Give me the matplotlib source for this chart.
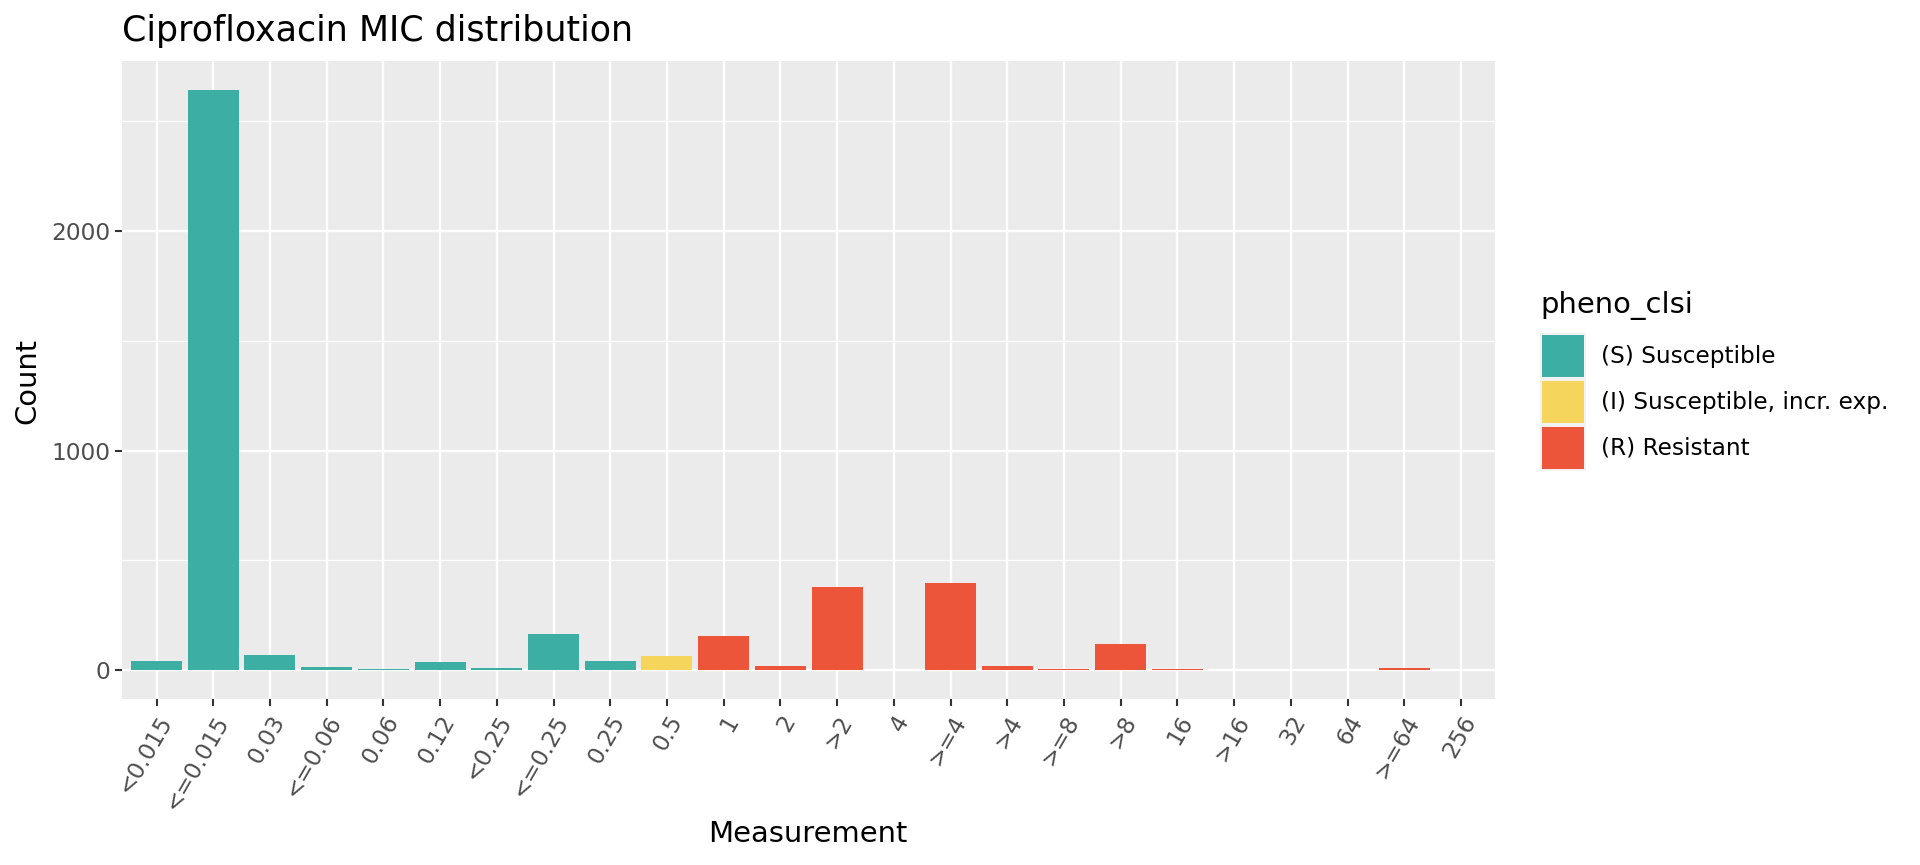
import numpy as np
import matplotlib.pyplot as plt
from matplotlib.patches import Rectangle

# MIC values (x categories, in plot order)
categories = ["<0.015", "<=0.015", "0.03", "<=0.06", "0.06", "0.12", "<0.25",
              "<=0.25", "0.25", "0.5", "1", "2", ">2", "4", ">=4", ">4", ">=8",
              ">8", "16", ">16", "32", "64", ">=64", "256"]
counts = [40, 2643, 67, 12, 4, 35, 8, 163, 40, 62, 153, 17, 377, 0, 395, 17, 4,
          117, 4, 0, 0, 0, 8, 0]
phenotype = ["S"] * 9 + ["I"] + ["R"] * 14

pheno_order = ["S", "I", "R"]
pheno_labels = ["(S) Susceptible", "(I) Susceptible, incr. exp.", "(R) Resistant"]
pheno_colors = {"S": "#3CAEA3", "I": "#F6D55C", "R": "#ED553B"}

W, H = 1920, 865
S = 1.9  # ggplot pt -> matplotlib pt at dpi 100


def fx(px):
    return px / W


def fy(py):
    return 1 - py / H


fig = plt.figure(figsize=(W / 100, H / 100), dpi=100)
ax = fig.add_axes([fx(122.5), fy(699), fx(1495 - 122.5), (699 - 61) / H])

x = np.arange(1, len(categories) + 1)
ax.bar(x, counts, width=0.9, color=[pheno_colors[p] for p in phenotype],
       linewidth=0, zorder=3)

ymax = max(counts)
ax.set_xlim(0.4, len(categories) + 0.6)
ax.set_ylim(-0.05 * ymax, 1.05 * ymax)

ax.set_facecolor("#EBEBEB")
for sp in ax.spines.values():
    sp.set_visible(False)

ax.set_yticks([0, 1000, 2000])
ax.set_yticks([500, 1500, 2500], minor=True)
ax.set_xticks(x)
ax.set_xticklabels(categories, rotation=60, ha="right", va="top",
                   rotation_mode="anchor")
ax.grid(which="major", color="white", linewidth=1.7, zorder=0)
ax.grid(which="minor", axis="y", color="white", linewidth=0.9, zorder=0)
ax.set_axisbelow(True)
ax.tick_params(axis="both", which="major", length=5, width=1.5,
               color="#333333", labelsize=8.8 * S, labelcolor="#4D4D4D", pad=4)
ax.tick_params(which="minor", length=0)

# titles
fig.text(fx(122), fy(31), "Ciprofloxacin MIC distribution", fontsize=13.2 * S,
         ha="left", va="center")
fig.text(fx(808), fy(834), "Measurement", fontsize=11 * S, ha="center", va="center")
fig.text(fx(27), fy(381), "Count", fontsize=11 * S, rotation=90,
         ha="center", va="center")

# legend
fig.text(fx(1540), fy(306), "pheno_clsi", fontsize=11 * S, ha="left", va="center")
key = 46
top = 333
for i, (p, lab) in enumerate(zip(pheno_order, pheno_labels)):
    y0 = top + i * key
    fig.add_artist(Rectangle((fx(1540), fy(y0 + key)), key / W, key / H,
                             transform=fig.transFigure, facecolor="#F2F2F2",
                             edgecolor="none"))
    fig.add_artist(Rectangle((fx(1542), fy(y0 + key - 2)), (key - 4) / W,
                             (key - 4) / H, transform=fig.transFigure,
                             facecolor=pheno_colors[p], edgecolor="none"))
    fig.text(fx(1601), fy(y0 + key / 2), lab, fontsize=8.8 * S,
             ha="left", va="center")

fig.savefig("out.png", dpi=100)
